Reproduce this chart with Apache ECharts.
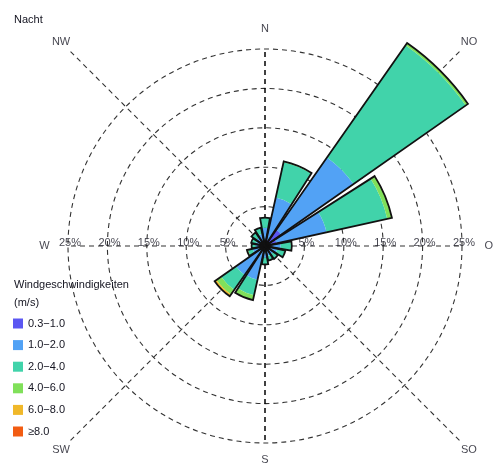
<!DOCTYPE html>
<html>
<head>
<meta charset="utf-8">
<script src="https://cdn.jsdelivr.net/npm/echarts@6/dist/echarts.min.js"></script>
<style>
html,body{margin:0;padding:0;background:#fff;}
#chart{width:503px;height:464px;}
</style>
</head>
<body>
<div id="chart"></div>
<script>
// Wind directions (16 sectors, clockwise from north)
const directions = ['N','NNO','NO','ONO','O','OSO','SO','SSO','S','SSW','SW','WSW','W','WNW','NW','NNW'];
// Speed classes (m/s)
const speedClasses = ['0.3\u22121.0','1.0\u22122.0','2.0\u22124.0','4.0\u22126.0','6.0\u22128.0','\u22658.0'];
const speedColors = ['#5b57f2','#52a2f5','#41d3aa','#80e05a','#f0b82a','#f25c12'];
// Frequency (%) per speed class and direction
const freq0310 = [0.5, 0.8, 2.5, 1.5, 0.5, 0.4, 0.3, 0.3, 0.3, 0.3, 0.3, 0.3, 0.3, 0.3, 0.3, 0.4];
const freq1020 = [1.8, 5.5, 11.2, 6.5, 1.5, 1.2, 1.0, 1.0, 1.2, 4.1, 4.2, 1.3, 0.9, 0.9, 1.0, 1.2];
const freq2040 = [1.3, 4.6, 17.4, 7.9, 1.3, 1.0, 0.7, 0.6, 0.8, 2.0, 2.3, 0.6, 0.5, 0.6, 0.8, 0.8];
const freq4060 = [0, 0.1, 0.3, 0.6, 0.1, 0.05, 0, 0, 0.05, 0.6, 0.7, 0.1, 0, 0, 0, 0];
const freq6080 = [0, 0, 0.05, 0, 0, 0, 0, 0, 0, 0.05, 0.3, 0.05, 0, 0, 0, 0];
const freq80 = [0, 0, 0, 0, 0, 0, 0, 0, 0, 0, 0, 0, 0, 0, 0, 0];
// Radial grid
const ringTicks = [5, 10, 15, 20, 25];
const ringMax = 25;
// Compass labels around the rose
const compassNames = ['N','NO','O','SO','S','SW','W','NW'];
const compassAngles = [0, 45, 90, 135, 180, 225, 270, 315];

const speedSeries = [freq0310, freq1020, freq2040, freq4060, freq6080, freq80];
const totals = directions.map((_, i) => speedSeries.reduce((s, arr) => s + arr[i], 0));

const CX = 265, CY = 246, R = 197;
const outerMax = 40;
const outerR = R * outerMax / ringMax;
const diag = ringMax * Math.SQRT2;
const TXT = '#141420';
const FONT = 'Liberation Sans, Arial, sans-serif';

const chart = echarts.init(document.getElementById('chart'), null, {renderer: 'canvas'});

const series = [];
speedSeries.forEach((arr, k) => {
  series.push({
    type: 'bar', name: speedClasses[k], coordinateSystem: 'polar', polarIndex: 0,
    stack: 'rose', data: arr, clip: false,
    itemStyle: {color: speedColors[k]}, barCategoryGap: '11%', z: 3,
    emphasis: {disabled: true}
  });
});
// outline of each sector
series.push({
  type: 'bar', name: 'outline', coordinateSystem: 'polar', polarIndex: 0,
  data: totals, clip: false, barGap: '-100%',
  itemStyle: {color: 'rgba(0,0,0,0)', borderColor: '#111', borderWidth: 1.8},
  z: 4, silent: true
});
// spokes
compassAngles.forEach((a) => {
  const len = (a % 90 === 0) ? ringMax : diag;
  const isNS = (a === 0 || a === 180);
  series.push({
    type: 'line', coordinateSystem: 'polar', polarIndex: 1, symbol: 'none', silent: true,
    data: [[0, a], [len, a]], z: isNS ? 2 : 1,
    lineStyle: {color: isNS ? '#000' : '#333', width: isNS ? 1.5 : 1.1, type: [5, 4]}
  });
});
// compass labels
const labelR = {0: 27.6, 45: 36.6, 90: 28.4, 135: 36.6, 180: 27.1, 225: 36.6, 270: 28.0, 315: 36.6};
series.push({
  type: 'scatter', coordinateSystem: 'polar', polarIndex: 1, symbolSize: 0, silent: true,
  data: compassNames.map((n, i) => ({value: [labelR[compassAngles[i]], compassAngles[i]], name: n})),
  label: {show: true, position: 'inside', formatter: p => p.name, color: TXT, fontFamily: FONT, fontSize: 11}
});
// radius tick labels on the east and west axes
const ringLabelData = [];
ringTicks.forEach(t => { ringLabelData.push([t, 90]); ringLabelData.push([t, 270]); });
series.push({
  type: 'scatter', coordinateSystem: 'polar', polarIndex: 1, symbolSize: 0, silent: true, z: 5,
  data: ringLabelData,
  label: {show: true, position: 'inside', offset: [2, -3], formatter: p => p.value[0] + '%', color: TXT,
          fontFamily: FONT, fontSize: 11}
});

chart.setOption({
  animation: false,
  backgroundColor: '#fff',
  textStyle: {fontFamily: FONT},
  title: [
    {text: 'Nacht', left: 14, top: 14, padding: 0, textStyle: {fontSize: 11, fontWeight: 'normal', color: TXT}},
    {text: 'Windgeschwindigkeiten', left: 14, top: 279, padding: 0, textStyle: {fontSize: 11, fontWeight: 'normal', color: TXT}},
    {text: '(m/s)', left: 14, top: 297, padding: 0, textStyle: {fontSize: 11, fontWeight: 'normal', color: TXT}}
  ],
  legend: {
    data: speedClasses, orient: 'vertical', left: 13, top: 318, itemWidth: 10, itemHeight: 10, itemGap: 10.6,
    icon: 'rect', selectedMode: false, padding: 0,
    textStyle: {fontSize: 11, color: TXT, padding: [0, 0, 0, 0]}
  },
  polar: [
    {center: [CX, CY], radius: R},
    {center: [CX, CY], radius: outerR}
  ],
  angleAxis: [
    {polarIndex: 0, type: 'category', data: directions, startAngle: 90 + 11.25, clockwise: true, boundaryGap: true,
     axisLine: {show: false}, axisTick: {show: false}, axisLabel: {show: false}, splitLine: {show: false}},
    {polarIndex: 1, type: 'value', min: 0, max: 360, startAngle: 90, clockwise: true,
     axisLine: {show: false}, axisTick: {show: false}, axisLabel: {show: false}, splitLine: {show: false}}
  ],
  radiusAxis: [
    {polarIndex: 0, type: 'value', min: 0, max: ringMax, interval: 5,
     axisLine: {show: false}, axisTick: {show: false}, axisLabel: {show: false},
     splitLine: {show: true, lineStyle: {color: '#333', width: 1.1, type: [5, 4]}}},
    {polarIndex: 1, type: 'value', min: 0, max: outerMax,
     axisLine: {show: false}, axisTick: {show: false}, axisLabel: {show: false}, splitLine: {show: false}}
  ],
  series: series
});
</script>
</body>
</html>
